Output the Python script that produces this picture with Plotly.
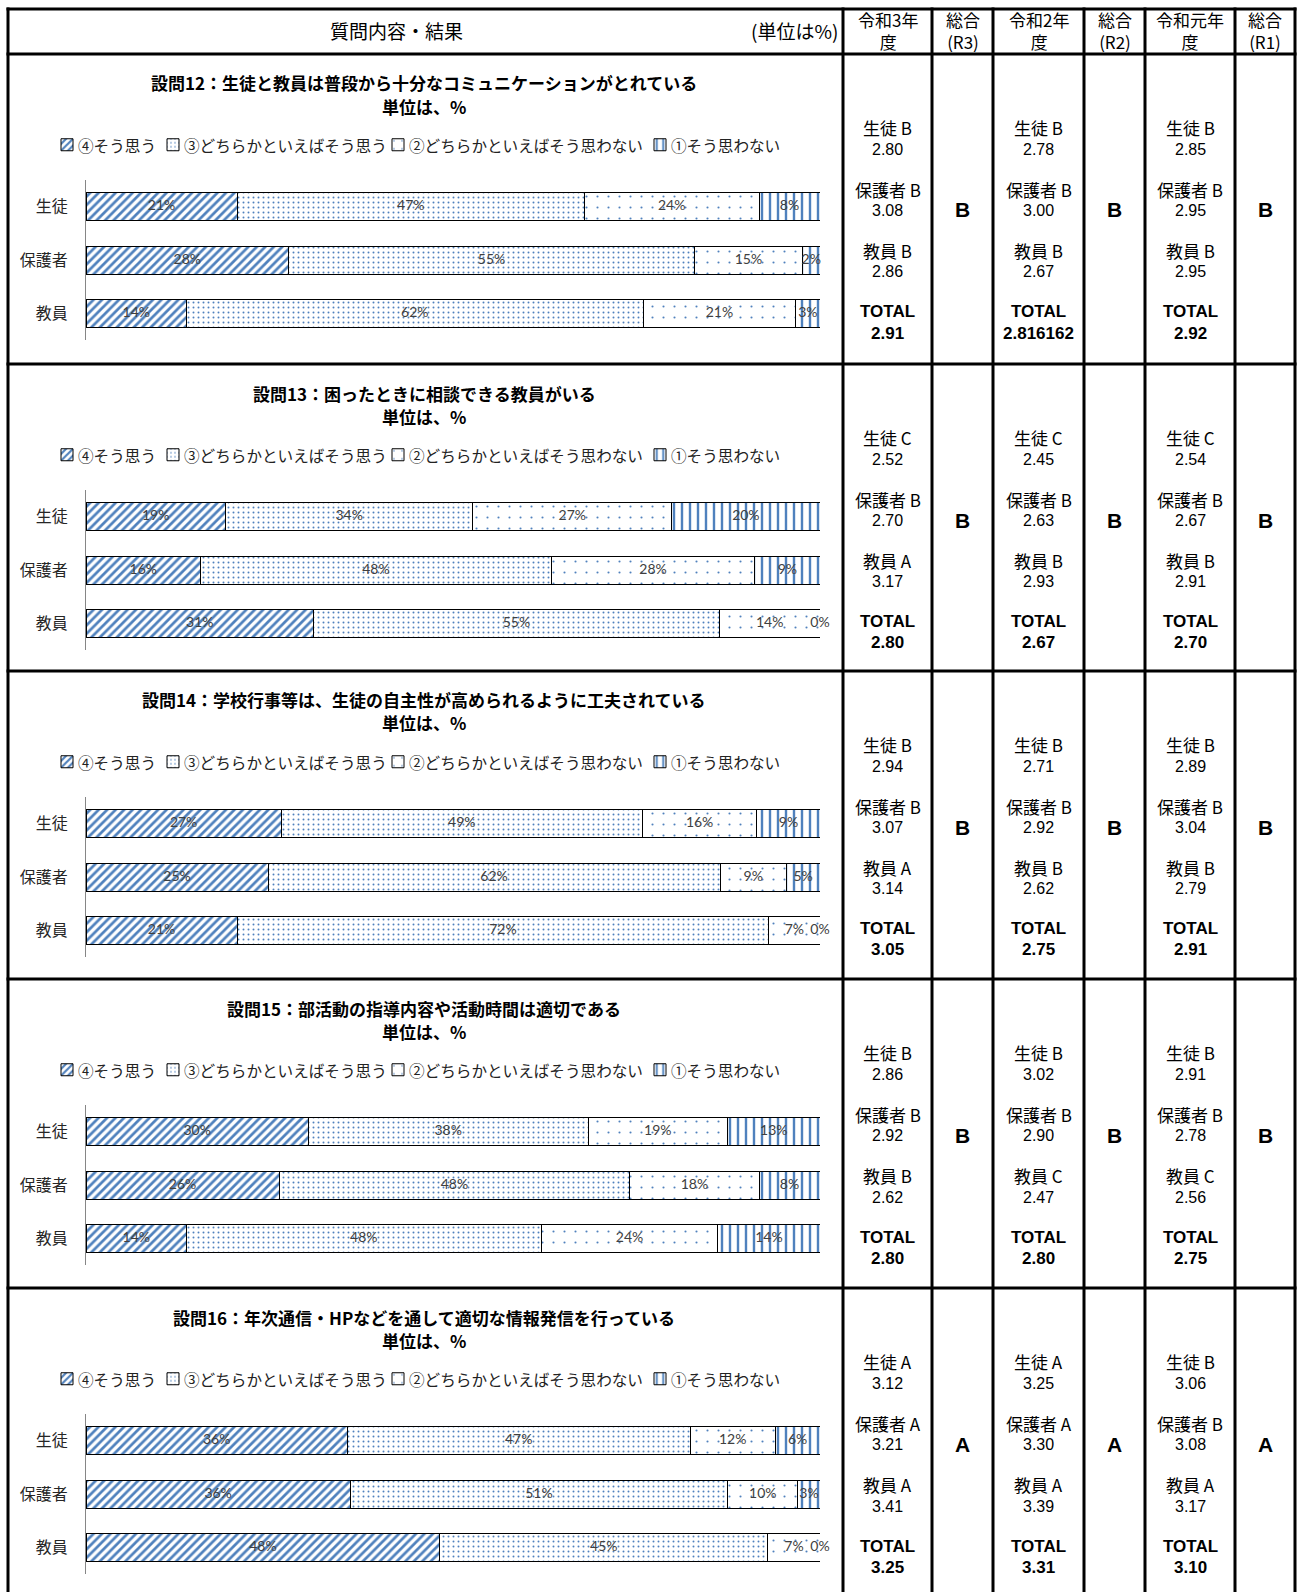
import plotly.graph_objects as go

W, H = 1301, 1592

# ---------------- data ----------------
categories = ["生徒", "保護者", "教員"]
answer_labels = ["④そう思う", "③どちらかといえばそう思う", "②どちらかといえばそう思わない", "①そう思わない"]

titles = [
    "設問12：生徒と教員は普段から十分なコミュニケーションがとれている",
    "設問13：困ったときに相談できる教員がいる",
    "設問14：学校行事等は、生徒の自主性が高められるように工夫されている",
    "設問15：部活動の指導内容や活動時間は適切である",
    "設問16：年次通信・HPなどを通して適切な情報発信を行っている",
]
unit_text = "単位は、%"

# percentages, rows = categories (生徒, 保護者, 教員), cols = answers (④, ③, ②, ①)
q12 = [[20.6, 47.3, 23.8, 8.3], [27.6, 55.3, 14.7, 2.4], [13.7, 62.2, 20.8, 3.3]]
q13 = [[19.0, 33.7, 27.1, 20.2], [15.6, 47.8, 27.7, 8.9], [31.0, 55.3, 13.7, 0.0]]
q14 = [[26.6, 49.2, 15.6, 8.6], [24.8, 61.6, 9.0, 4.6], [20.6, 72.4, 7.0, 0.0]]
q15 = [[30.3, 38.1, 19.0, 12.6], [26.3, 47.8, 17.6, 8.3], [13.7, 48.3, 24.1, 13.9]]
q16 = [[35.6, 46.7, 11.6, 6.1], [36.0, 51.4, 9.6, 3.0], [48.2, 44.7, 7.1, 0.0]]
questions = [q12, q13, q14, q15, q16]

header_cols = ["令和3年<br>度", "総合<br>(R3)", "令和2年<br>度", "総合<br>(R2)", "令和元年<br>度", "総合<br>(R1)"]
group_names = ["生徒", "保護者", "教員"]

# per question, per year (R3, R2, R1): grades & scores for 生徒, 保護者, 教員 ; total ; overall
r3_grades = [["B", "B", "B"], ["C", "B", "A"], ["B", "B", "A"], ["B", "B", "B"], ["A", "A", "A"]]
r3_scores = [["2.80", "3.08", "2.86"], ["2.52", "2.70", "3.17"], ["2.94", "3.07", "3.14"], ["2.86", "2.92", "2.62"], ["3.12", "3.21", "3.41"]]
r3_total = ["2.91", "2.80", "3.05", "2.80", "3.25"]
r3_overall = ["B", "B", "B", "B", "A"]

r2_grades = [["B", "B", "B"], ["C", "B", "B"], ["B", "B", "B"], ["B", "B", "C"], ["A", "A", "A"]]
r2_scores = [["2.78", "3.00", "2.67"], ["2.45", "2.63", "2.93"], ["2.71", "2.92", "2.62"], ["3.02", "2.90", "2.47"], ["3.25", "3.30", "3.39"]]
r2_total = ["2.816162", "2.67", "2.75", "2.80", "3.31"]
r2_overall = ["B", "B", "B", "B", "A"]

r1_grades = [["B", "B", "B"], ["C", "B", "B"], ["B", "B", "B"], ["B", "B", "C"], ["B", "B", "A"]]
r1_scores = [["2.85", "2.95", "2.95"], ["2.54", "2.67", "2.91"], ["2.89", "3.04", "2.79"], ["2.91", "2.78", "2.56"], ["3.06", "3.08", "3.17"]]
r1_total = ["2.92", "2.70", "2.91", "2.75", "3.10"]
r1_overall = ["B", "B", "B", "B", "A"]

years = [
    (r3_grades, r3_scores, r3_total, r3_overall),
    (r2_grades, r2_scores, r2_total, r2_overall),
    (r1_grades, r1_scores, r1_total, r1_overall),
]

# ---------------- styling / layout ----------------
BLUE = "#4f81bd"
patterns = [
    dict(shape="/", fgcolor=BLUE, bgcolor="white", size=6, solidity=0.45, fillmode="replace"),
    dict(shape=".", fgcolor=BLUE, bgcolor="white", size=5, solidity=0.12, fillmode="replace"),
    dict(shape=".", fgcolor=BLUE, bgcolor="white", size=11, solidity=0.03, fillmode="replace"),
    dict(shape="|", fgcolor=BLUE, bgcolor="white", size=8, solidity=0.3, fillmode="replace"),
]

JP = "Noto Sans CJK JP"
row_tops = [54, 364, 671, 979, 1288]
col_lines = [8, 843, 932, 993, 1084, 1145, 1235, 1295]
col_centers = [(col_lines[i] + col_lines[i + 1]) / 2 for i in range(1, 7)]
legend_text_x = [76, 182, 407, 669]   # where each legend entry's text starts (px)
SYMBOL_CENTER_OFFSET = 20              # plotly legend symbol centre relative to legend x


def px(x):
    return x / W


def py(y):
    return 1 - y / H


fig = go.Figure()
annotations = []
shapes = []
layout_extra = {}
leg_counter = 0

for qi, (qvals, title) in enumerate(zip(questions, titles)):
    T = row_tops[qi]
    n = qi + 1
    xa = "x" if n == 1 else f"x{n}"
    ya = "y" if n == 1 else f"y{n}"

    cum = [0.0] * len(categories)
    centers_x, centers_y, texts = [], [], []
    for ai, lab in enumerate(answer_labels):
        leg_counter += 1
        leg = "legend" if leg_counter == 1 else f"legend{leg_counter}"
        sym_center = legend_text_x[ai] - 9
        layout_extra[leg] = dict(orientation="h", x=px(sym_center - SYMBOL_CENTER_OFFSET),
                                 y=py(T + 91), xanchor="left", yanchor="middle",
                                 font=dict(family=JP, size=15, color="#222"),
                                 bgcolor="rgba(0,0,0,0)", itemwidth=30, itemclick=False,
                                 itemdoubleclick=False)
        # legend entry text drawn as annotation right next to the swatch
        annotations.append(dict(text=lab, x=px(legend_text_x[ai]), y=py(T + 91), xref="paper", yref="paper",
                                showarrow=False, xanchor="left", yanchor="middle",
                                font=dict(family=JP, size=15.6, color="#222")))
        xs = [qvals[ci][ai] for ci in range(len(categories))]
        fig.add_trace(go.Bar(
            x=xs, y=categories, orientation="h", name="",
            marker=dict(color="white", pattern=patterns[ai], line=dict(color="black", width=1)),
            xaxis=xa, yaxis=ya, legend=leg, showlegend=True, hoverinfo="skip",
            cliponaxis=False,
        ))
        for ci in range(len(categories)):
            centers_x.append(cum[ci] + xs[ci] / 2)
            centers_y.append(categories[ci])
            texts.append(f"{round(xs[ci])}%")
            cum[ci] += xs[ci]
    fig.add_trace(go.Scatter(
        x=centers_x, y=centers_y, mode="text", text=texts,
        textfont=dict(family="Lato", size=14, color="#404040"),
        xaxis=xa, yaxis=ya, showlegend=False, hoverinfo="skip", cliponaxis=False,
    ))

    xkey = "xaxis" if n == 1 else f"xaxis{n}"
    ykey = "yaxis" if n == 1 else f"yaxis{n}"
    layout_extra[xkey] = dict(domain=[px(86), px(820)], range=[0, 100], visible=False,
                              anchor=ya, fixedrange=True)
    layout_extra[ykey] = dict(domain=[py(T + 286), py(T + 126)], type="category",
                              categoryorder="array", categoryarray=categories,
                              autorange="reversed", showline=True, linecolor="#868686",
                              linewidth=1, ticks="", showgrid=False, zeroline=False,
                              ticklabelstandoff=14, anchor=xa,
                              tickfont=dict(family=JP, size=16, color="#262626"),
                              fixedrange=True)

    annotations.append(dict(text=f"<b>{title}</b>", x=px(424), y=py(T + 29), xref="paper", yref="paper",
                            showarrow=False, xanchor="center", yanchor="middle",
                            font=dict(family=JP, size=17, color="#000")))
    annotations.append(dict(text=f"<b>{unit_text}</b>", x=px(424), y=py(T + 52), xref="paper", yref="paper",
                            showarrow=False, xanchor="center", yanchor="middle",
                            font=dict(family=JP, size=17, color="#000")))

    # right-hand score columns
    for yi, (grades, scores, totals, overall) in enumerate(years):
        cx = col_centers[yi * 2]
        gx = col_centers[yi * 2 + 1]
        for gi, gname in enumerate(group_names):
            annotations.append(dict(text=f"{gname} {grades[qi][gi]}", x=px(cx), y=py(T + 73.5 + gi * 61.5),
                                    xref="paper", yref="paper", showarrow=False, xanchor="center",
                                    yanchor="middle", font=dict(family=JP, size=17, color="#000")))
            annotations.append(dict(text=scores[qi][gi], x=px(cx), y=py(T + 95 + gi * 61.5),
                                    xref="paper", yref="paper", showarrow=False, xanchor="center",
                                    yanchor="middle", font=dict(family="Liberation Sans", size=16, color="#000")))
        annotations.append(dict(text="<b>TOTAL</b>", x=px(cx), y=py(T + 258),
                                xref="paper", yref="paper", showarrow=False, xanchor="center",
                                yanchor="middle", font=dict(family="Liberation Sans", size=17, color="#000")))
        annotations.append(dict(text=f"<b>{totals[qi]}</b>", x=px(cx), y=py(T + 279),
                                xref="paper", yref="paper", showarrow=False, xanchor="center",
                                yanchor="middle", font=dict(family="Liberation Sans", size=17, color="#000")))
        annotations.append(dict(text=f"<b>{overall[qi]}</b>", x=px(gx), y=py(T + 156),
                                xref="paper", yref="paper", showarrow=False, xanchor="center",
                                yanchor="middle", font=dict(family="Liberation Sans", size=21, color="#000")))

# header
annotations.append(dict(text="質問内容・結果", x=px(396), y=py(31), xref="paper", yref="paper",
                        showarrow=False, xanchor="center", yanchor="middle",
                        font=dict(family=JP, size=19, color="#000")))
annotations.append(dict(text="(単位は%)", x=px(840), y=py(31), xref="paper", yref="paper",
                        showarrow=False, xanchor="right", yanchor="middle",
                        font=dict(family=JP, size=19, color="#000")))
for i, htxt in enumerate(header_cols):
    annotations.append(dict(text=htxt, x=px(col_centers[i]), y=py(31), xref="paper", yref="paper",
                            showarrow=False, xanchor="center", yanchor="middle",
                            font=dict(family=JP, size=17, color="#000")))

# table grid lines
line_style = dict(color="black", width=3)
for yy in [9, 54] + row_tops[1:]:
    shapes.append(dict(type="line", xref="paper", yref="paper", x0=px(6.5), x1=px(1296.5),
                       y0=py(yy), y1=py(yy), line=line_style, layer="above"))
for xx in col_lines:
    shapes.append(dict(type="line", xref="paper", yref="paper", x0=px(xx), x1=px(xx),
                       y0=py(7.5), y1=py(1600), line=line_style, layer="above"))

fig.update_layout(
    width=W, height=H, margin=dict(l=0, r=0, t=0, b=0),
    paper_bgcolor="white", plot_bgcolor="white",
    barmode="stack", bargap=0.475,
    annotations=annotations, shapes=shapes,
    font=dict(family=JP),
    **layout_extra,
)

fig.write_html("out.html", config={"displayModeBar": False},
               post_script="document.body.style.margin='0';document.body.style.overflow='hidden';")
